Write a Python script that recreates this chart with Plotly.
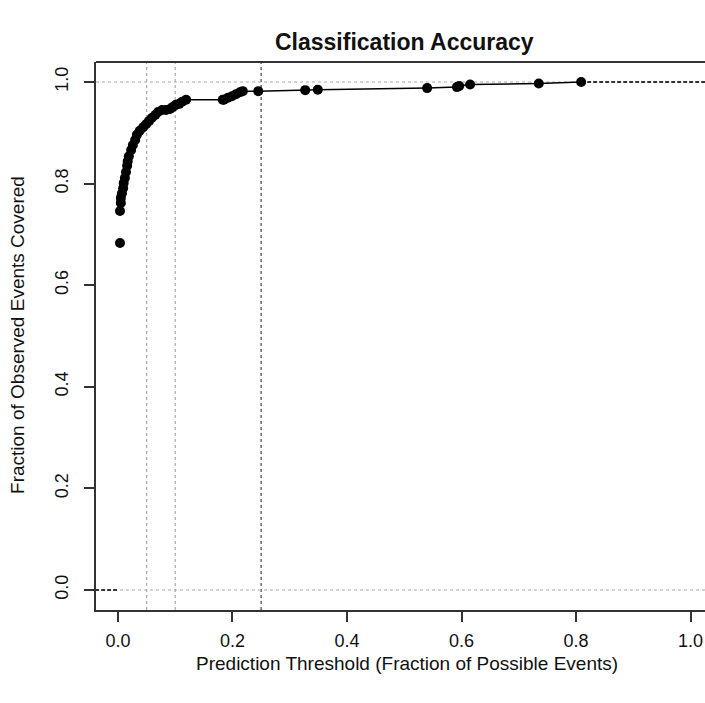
import plotly.graph_objects as go

# ---- data ----
first_x = [0.0035]
first_y = [0.683]
threshold = [0.0035, 0.005, 0.005, 0.007, 0.009, 0.010, 0.012, 0.014, 0.016,
             0.017, 0.019, 0.023, 0.026, 0.030, 0.033, 0.038, 0.044, 0.049, 0.054,
             0.059, 0.065, 0.070, 0.077, 0.084, 0.091, 0.096, 0.101, 0.107, 0.112,
             0.119, 0.183, 0.185, 0.192, 0.199, 0.206, 0.213, 0.218, 0.245, 0.327,
             0.349, 0.540, 0.592, 0.596, 0.615, 0.735, 0.809]
coverage = [0.746, 0.762, 0.772, 0.781, 0.791, 0.801, 0.811, 0.823, 0.835,
            0.844, 0.854, 0.866, 0.876, 0.886, 0.896, 0.904, 0.911, 0.917, 0.923,
            0.929, 0.935, 0.941, 0.945, 0.945, 0.947, 0.951, 0.955, 0.957, 0.961,
            0.965, 0.965, 0.965, 0.969, 0.972, 0.976, 0.980, 0.982, 0.982, 0.984,
            0.985, 0.988, 0.990, 0.992, 0.995, 0.997, 1.000]
lower_tail_x = [-0.04, 0.0]
lower_tail_y = [0.0, 0.0]
upper_tail_x = [0.809, 1.04]
upper_tail_y = [1.0, 1.0]
ref_x_light = [0.05, 0.10]
ref_x_dark = [0.25]
ref_y = [0.0, 1.0]
x_ticks = [0.0, 0.2, 0.4, 0.6, 0.8, 1.0]
y_ticks = [0.0, 0.2, 0.4, 0.6, 0.8, 1.0]

FONT = "Liberation Sans, Arial, sans-serif"
AX = "#333333"
TXT = "#111111"

fig = go.Figure()

shapes = []
for v in ref_x_light:
    shapes.append(dict(type="line", xref="x", yref="paper", x0=v, x1=v, y0=0, y1=1,
                       line=dict(color="#aaaaaa", width=1.2, dash="dot"), layer="below"))
for v in ref_x_dark:
    shapes.append(dict(type="line", xref="x", yref="paper", x0=v, x1=v, y0=0, y1=1,
                       line=dict(color="#444444", width=1.2, dash="dot"), layer="below"))
for v in ref_y:
    shapes.append(dict(type="line", xref="paper", yref="y", x0=0, x1=1, y0=v, y1=v,
                       line=dict(color="#aaaaaa", width=1.2, dash="dot"), layer="below"))
shapes.append(dict(type="line", xref="paper", yref="paper", x0=0, x1=1, y0=1, y1=1,
                   line=dict(color=AX, width=2)))

fig.add_trace(go.Scatter(x=lower_tail_x, y=lower_tail_y, mode="lines",
                         line=dict(color="black", width=1.5, dash="4px,2px"),
                         showlegend=False, hoverinfo="skip"))
fig.add_trace(go.Scatter(x=upper_tail_x, y=upper_tail_y, mode="lines",
                         line=dict(color="black", width=1.5, dash="4px,2px"),
                         showlegend=False, hoverinfo="skip"))
fig.add_trace(go.Scatter(x=first_x, y=first_y, mode="markers",
                         marker=dict(color="black", size=10, line=dict(width=0)),
                         showlegend=False))
fig.add_trace(go.Scatter(x=threshold, y=coverage, mode="lines+markers",
                         line=dict(color="black", width=1.5),
                         marker=dict(color="black", size=10, line=dict(width=0)),
                         showlegend=False))

fig.update_layout(
    width=705, height=703,
    margin=dict(l=96, r=0, t=62, b=93, autoexpand=False),
    paper_bgcolor="white", plot_bgcolor="white",
    font=dict(family=FONT, color=TXT, size=18),
    shapes=shapes,
    xaxis=dict(range=[-0.0384, 1.0253], tickvals=x_ticks, tickformat=".1f",
               automargin=False, ticklabeloverflow="allow",
               showgrid=False, zeroline=False, showline=True, linecolor=AX, linewidth=2,
               ticks="outside", ticklen=10, tickwidth=1.5, tickcolor=AX,
               tickfont=dict(size=18, family=FONT, color=TXT),
               ticklabelstandoff=3),
    yaxis=dict(range=[-0.0394, 1.0394], tickvals=y_ticks, tickformat=".1f",
               automargin=False, ticklabeloverflow="allow",
               showgrid=False, zeroline=False, showline=True, linecolor=AX, linewidth=2,
               ticks="outside", ticklen=10, tickwidth=1.5, tickcolor=AX, tickangle=-90,
               tickfont=dict(size=18, family=FONT, color=TXT),
               ticklabelstandoff=9),
    annotations=[
        dict(text="<b>Classification Accuracy</b>", xref="x", x=0.5, yref="paper", y=1,
             yshift=20, yanchor="middle", xanchor="center", showarrow=False,
             font=dict(size=23, family=FONT, color=TXT)),
        dict(text="Prediction Threshold (Fraction of Possible Events)", xref="x", x=0.504,
             yref="paper", y=0, yshift=-53, yanchor="middle", xanchor="center",
             showarrow=False, font=dict(size=19, family=FONT, color=TXT)),
        dict(text="Fraction of Observed Events Covered", xref="paper", x=0, xshift=-78,
             yref="y", y=0.502, textangle=-90, xanchor="center", yanchor="middle",
             showarrow=False, font=dict(size=19, family=FONT, color=TXT)),
    ],
)

fig.write_html("out.html",
               config={"displayModeBar": False},
               post_script="document.body.style.margin='0';"
                           "document.body.style.overflow='hidden';")
